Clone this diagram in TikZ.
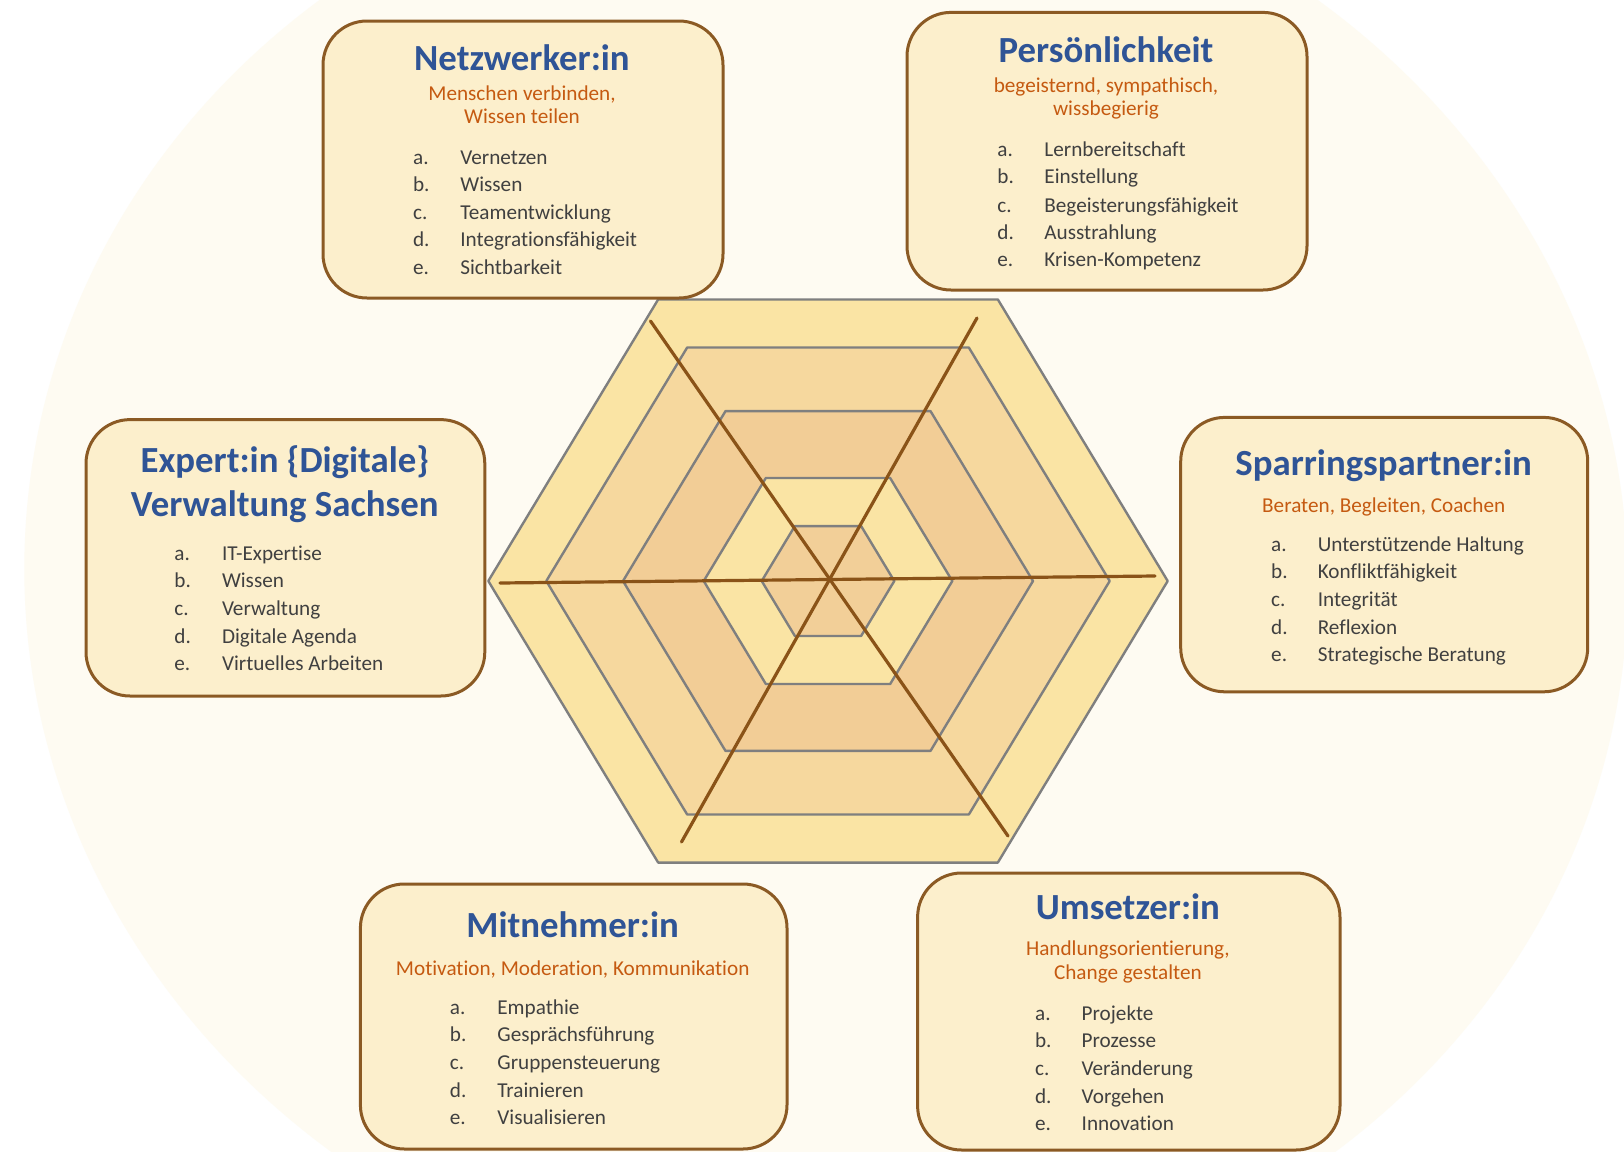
\documentclass[tikz,border=0pt]{standalone}
\usepackage{fontspec}
\setmainfont{Carlito}[Ligatures=NoCommon]
\definecolor{titleblue}{HTML}{2F5496}
\definecolor{suborange}{HTML}{C55A11}
\definecolor{itemgray}{HTML}{404040}
\definecolor{boxfill}{HTML}{FCEFCC}
\definecolor{boxline}{HTML}{8B5A24}
\definecolor{bgcream}{HTML}{FEFBF2}
\definecolor{ringA}{HTML}{FAE4A4}
\definecolor{ringB}{HTML}{F6D89E}
\definecolor{ringC}{HTML}{F2CD96}
\definecolor{ringD}{HTML}{FAE4A4}
\definecolor{ringE}{HTML}{F2CF98}
\definecolor{hexgray}{HTML}{7F7F7F}
\definecolor{spokebrown}{HTML}{8A5318}
\newcommand{\itemrow}[6]{%
  \node[itemtxt] (#1l) at (#2,#4) {#5.};
  \node[itemtxt] (#1t) at (#3,#4) {#6};}
\begin{document}
\begin{tikzpicture}[x=0.5pt,y=-0.5pt,
  cardbox/.style={draw=boxline, line width=1.5pt, fill=boxfill, rounded corners=22pt, inner sep=0pt},
  titletxt/.style={anchor=base, inner sep=0pt, text=titleblue, font=\fontsize{18.4pt}{22pt}\selectfont\bfseries},
  subtxt/.style={anchor=base, inner sep=0pt, text=suborange, font=\fontsize{10.6pt}{13pt}\selectfont},
  itemtxt/.style={anchor=base west, inner sep=0pt, text=itemgray, font=\fontsize{10.6pt}{13pt}\selectfont},
  hexline/.style={draw=hexgray, line width=1.2pt, line join=round},
  spoke/.style={draw=spokebrown, line width=1.6pt, line cap=round}]
\useasboundingbox (0,0) rectangle (1624,1152);
\fill[white] (0,0) rectangle (1624,1152);
\begin{scope}
\clip (0,0) rectangle (1624,1152);
\fill[bgcream, rotate around={-4:(826,577)}] (826,577) ellipse [x radius=802, y radius=737];
\end{scope}
% hexagon web
\begin{scope}[shift={(828,581)}, yscale=0.957]
\filldraw[hexline, fill=ringA] (0:339.7) -- (60:339.7) -- (120:339.7) -- (180:339.7) -- (240:339.7) -- (300:339.7) -- cycle;
\filldraw[hexline, fill=ringB] (0:281.7) -- (60:281.7) -- (120:281.7) -- (180:281.7) -- (240:281.7) -- (300:281.7) -- cycle;
\filldraw[hexline, fill=ringC] (0:205) -- (60:205) -- (120:205) -- (180:205) -- (240:205) -- (300:205) -- cycle;
\filldraw[hexline, fill=ringD] (0:124.3) -- (60:124.3) -- (120:124.3) -- (180:124.3) -- (240:124.3) -- (300:124.3) -- cycle;
\filldraw[hexline, fill=ringE] (0:66.3) -- (60:66.3) -- (120:66.3) -- (180:66.3) -- (240:66.3) -- (300:66.3) -- cycle;
\end{scope}
\coordinate (hl) at (500,583);
\coordinate (hr) at (1155,576);
\coordinate (d1a) at (650.5,321);
\coordinate (d1b) at (1008,836);
\coordinate (d2a) at (977,318);
\coordinate (d2b) at (681.5,842);
\draw[spoke] (hl) -- (hr);
\draw[spoke] (d1a) -- (d1b);
\draw[spoke] (d2a) -- (d2b);
% box 1
\node[cardbox, minimum width=200pt, minimum height=138.5pt] (b1) at (523,159.5) {};
\node[titletxt] (b1t) at (522,70.7) {Netzwerker:in};
\node[subtxt] (b1s1) at (522,100) {Menschen verbinden,};
\node[subtxt] (b1s2) at (522,123) {Wissen teilen};
\itemrow{b1a}{412.7}{460}{164.3}{a}{Vernetzen}
\itemrow{b1b}{412.7}{460}{191}{b}{Wissen}
\itemrow{b1c}{412.7}{460}{219.5}{c}{Teamentwicklung}
\itemrow{b1d}{412.7}{460}{246.7}{d}{Integrationsfähigkeit}
\itemrow{b1e}{412.7}{460}{274}{e}{Sichtbarkeit}
% box 2
\node[cardbox, minimum width=200pt, minimum height=138.8pt] (b2) at (1107,151.2) {};
\node[titletxt] (b2t) at (1106,62.4) {Persönlichkeit};
\node[subtxt] (b2s1) at (1106,92.7) {begeisternd, sympathisch,};
\node[subtxt] (b2s2) at (1106,115.5) {wissbegierig};
\itemrow{b2a}{997}{1044}{156}{a}{Lernbereitschaft}
\itemrow{b2b}{997}{1044}{183}{b}{Einstellung}
\itemrow{b2c}{997}{1044}{212}{c}{Begeisterungsfähigkeit}
\itemrow{b2d}{997}{1044}{239}{d}{Ausstrahlung}
\itemrow{b2e}{997}{1044}{266}{e}{Krisen-Kompetenz}
% box 3
\node[cardbox, minimum width=199.4pt, minimum height=138.2pt] (b3) at (285.4,557.8) {};
\node[titletxt] (b3t1) at (284.8,472.6) {Expert:in \{Digitale\}};
\node[titletxt] (b3t2) at (284.8,516) {Verwaltung Sachsen};
\itemrow{b3a}{174}{221.6}{560}{a}{IT-Expertise}
\itemrow{b3b}{174}{221.6}{587}{b}{Wissen}
\itemrow{b3c}{174}{221.6}{615}{c}{Verwaltung}
\itemrow{b3d}{174}{221.6}{643}{d}{Digitale Agenda}
\itemrow{b3e}{174}{221.6}{670}{e}{Virtuelles Arbeiten}
% box 4
\node[cardbox, minimum width=203.5pt, minimum height=137.2pt] (b4) at (1384.2,554.6) {};
\node[titletxt] (b4t) at (1383.7,475.7) {Sparringspartner:in};
\node[subtxt] (b4s) at (1383.7,512) {Beraten, Begleiten, Coachen};
\itemrow{b4a}{1270.8}{1317.4}{551.8}{a}{Unterstützende Haltung}
\itemrow{b4b}{1270.8}{1317.4}{578.7}{b}{Konfliktfähigkeit}
\itemrow{b4c}{1270.8}{1317.4}{606.7}{c}{Integrität}
\itemrow{b4d}{1270.8}{1317.4}{634.6}{d}{Reflexion}
\itemrow{b4e}{1270.8}{1317.4}{661.6}{e}{Strategische Beratung}
% box 5
\node[cardbox, minimum width=213.3pt, minimum height=132.5pt] (b5) at (573.7,1016.5) {};
\node[titletxt] (b5t) at (572.7,937.7) {Mitnehmer:in};
\node[subtxt] (b5s) at (572.7,975) {Motivation, Moderation, Kommunikation};
\itemrow{b5a}{449.5}{497}{1014.7}{a}{Empathie}
\itemrow{b5b}{449.5}{497}{1041.7}{b}{Gesprächsführung}
\itemrow{b5c}{449.5}{497}{1069.6}{c}{Gruppensteuerung}
\itemrow{b5d}{449.5}{497}{1097.6}{d}{Trainieren}
\itemrow{b5e}{449.5}{497}{1124.5}{e}{Visualisieren}
% box 6
\node[cardbox, minimum width=211.2pt, minimum height=138.5pt] (b6) at (1128.8,1011.5) {};
\node[titletxt] (b6t) at (1127.9,919) {Umsetzer:in};
\node[subtxt] (b6s1) at (1127.9,955.5) {Handlungsorientierung,};
\node[subtxt] (b6s2) at (1127.9,979.3) {Change gestalten};
\itemrow{b6a}{1034.7}{1081.3}{1020}{a}{Projekte}
\itemrow{b6b}{1034.7}{1081.3}{1047}{b}{Prozesse}
\itemrow{b6c}{1034.7}{1081.3}{1075}{c}{Veränderung}
\itemrow{b6d}{1034.7}{1081.3}{1103}{d}{Vorgehen}
\itemrow{b6e}{1034.7}{1081.3}{1130}{e}{Innovation}
\end{tikzpicture}
\end{document}
